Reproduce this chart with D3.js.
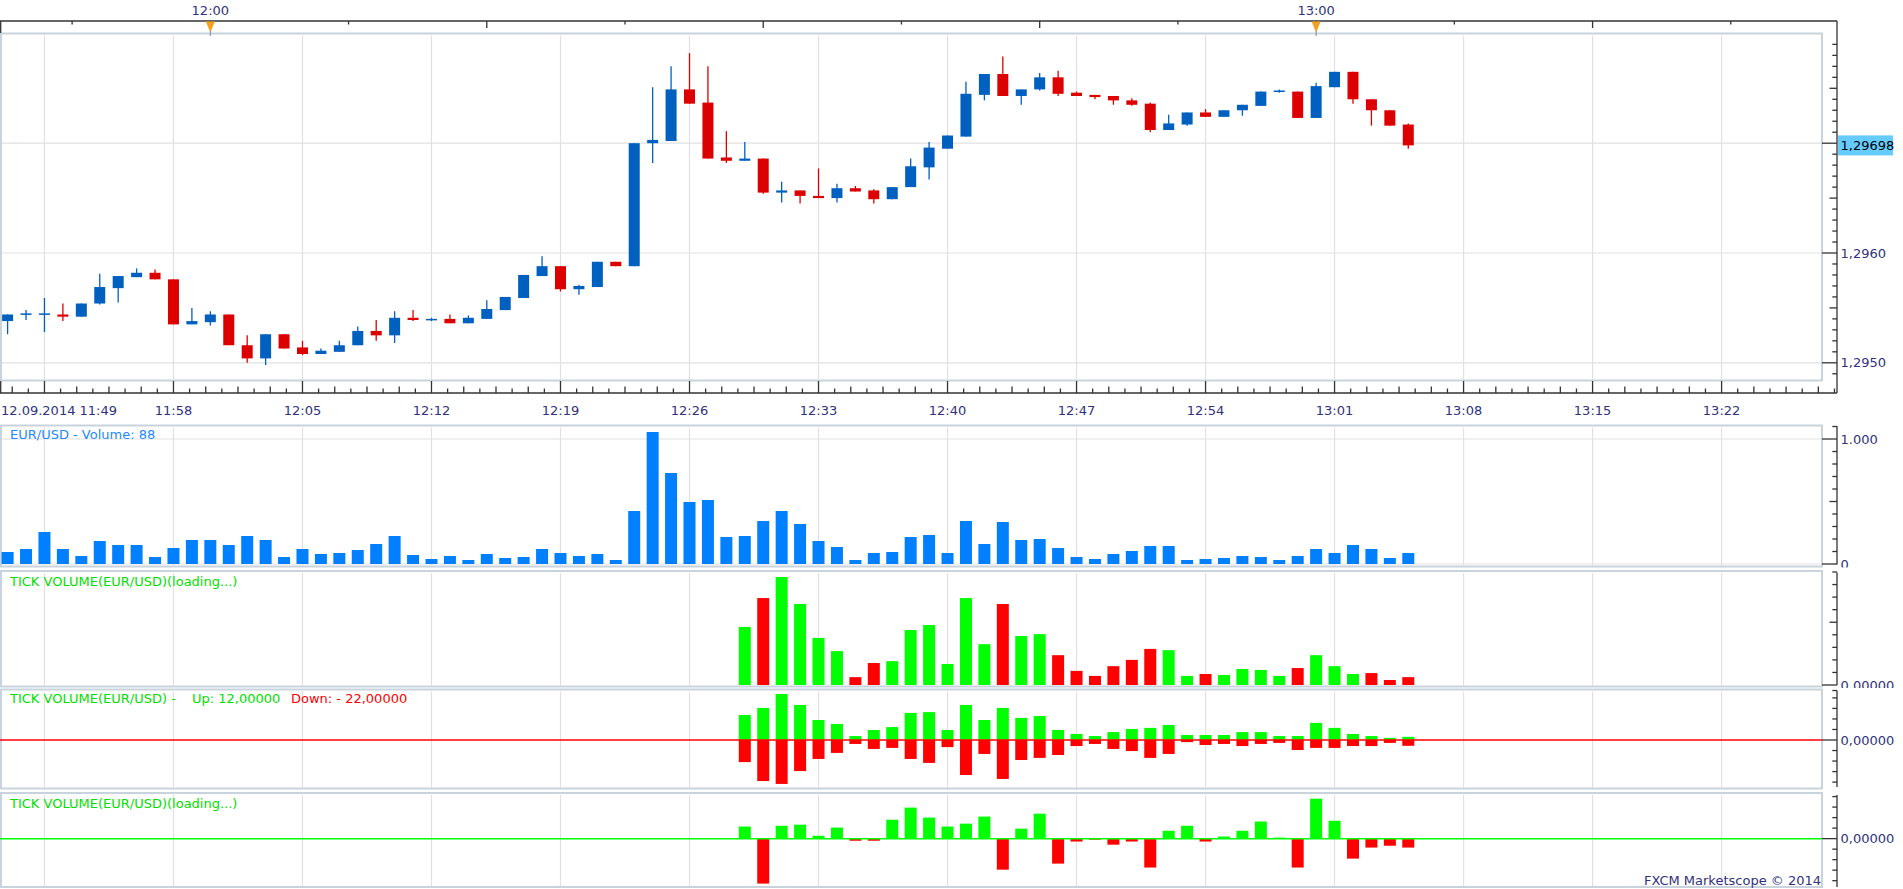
<!DOCTYPE html>
<html>
<head>
<meta charset="utf-8">
<script src="https://cdn.jsdelivr.net/npm/d3@7"></script>
<style>
    body { margin: 0; background: #ffffff; }
    svg text { font-family: "DejaVu Sans", Verdana, sans-serif; font-size: 13px; }
</style>
</head>
<body>
<div id="chart"></div>
<script>
// EUR/USD 1 minute candles, 12.09.2014 11:49 - 13:05
const openPrices = [1.29538, 1.29544, 1.29544, 1.29544, 1.29542, 1.29554, 1.29568, 1.29578, 1.29582, 1.29576,
    1.29535, 1.29537, 1.29544, 1.29516, 1.29504, 1.29526, 1.29514, 1.29508, 1.29510, 1.29516,
    1.29529, 1.29525, 1.29541, 1.29539, 1.29540, 1.29536, 1.29540, 1.29548, 1.29559, 1.29579,
    1.29588, 1.29567, 1.29569, 1.29592, 1.29588, 1.29700, 1.29702, 1.29749, 1.29737, 1.29687,
    1.29684, 1.29686, 1.29655, 1.29657, 1.29652, 1.29650, 1.29659, 1.29657, 1.29649, 1.29660,
    1.29678, 1.29695, 1.29706, 1.29744, 1.29763, 1.29743, 1.29749, 1.29760, 1.29746, 1.29744,
    1.29743, 1.29739, 1.29736, 1.29712, 1.29717, 1.29728, 1.29724, 1.29730, 1.29734, 1.29747,
    1.29747, 1.29723, 1.29751, 1.29765, 1.29740, 1.29730, 1.29717]
const highPrices = [1.29544, 1.29548, 1.29559, 1.29554, 1.29554, 1.29581, 1.29579, 1.29586, 1.29585, 1.29576,
    1.29550, 1.29547, 1.29544, 1.29525, 1.29526, 1.29526, 1.29520, 1.29513, 1.29520, 1.29533,
    1.29539, 1.29547, 1.29548, 1.29541, 1.29544, 1.29543, 1.29557, 1.29560, 1.29580, 1.29597,
    1.29588, 1.29571, 1.29592, 1.29592, 1.29700, 1.29751, 1.29770, 1.29782, 1.29770, 1.29711,
    1.29701, 1.29686, 1.29665, 1.29657, 1.29677, 1.29663, 1.29661, 1.29658, 1.29660, 1.29686,
    1.29701, 1.29707, 1.29756, 1.29763, 1.29779, 1.29749, 1.29764, 1.29766, 1.29747, 1.29744,
    1.29743, 1.29741, 1.29737, 1.29726, 1.29728, 1.29731, 1.29730, 1.29735, 1.29747, 1.29749,
    1.29747, 1.29755, 1.29765, 1.29765, 1.29740, 1.29730, 1.29718]
const lowPrices = [1.29526, 1.29539, 1.29528, 1.29538, 1.29542, 1.29553, 1.29555, 1.29578, 1.29576, 1.29535,
    1.29535, 1.29534, 1.29516, 1.29500, 1.29498, 1.29513, 1.29507, 1.29508, 1.29510, 1.29516,
    1.29520, 1.29518, 1.29538, 1.29538, 1.29536, 1.29536, 1.29540, 1.29548, 1.29559, 1.29579,
    1.29565, 1.29562, 1.29569, 1.29588, 1.29588, 1.29682, 1.29702, 1.29736, 1.29686, 1.29682,
    1.29684, 1.29654, 1.29646, 1.29645, 1.29650, 1.29646, 1.29656, 1.29645, 1.29649, 1.29660,
    1.29667, 1.29695, 1.29706, 1.29739, 1.29743, 1.29735, 1.29748, 1.29743, 1.29743, 1.29740,
    1.29735, 1.29734, 1.29710, 1.29712, 1.29716, 1.29724, 1.29724, 1.29725, 1.29734, 1.29746,
    1.29723, 1.29723, 1.29751, 1.29736, 1.29716, 1.29716, 1.29695]
const closePrices = [1.29544, 1.29545, 1.29545, 1.29542, 1.29554, 1.29569, 1.29579, 1.29582, 1.29576, 1.29535,
    1.29538, 1.29544, 1.29516, 1.29504, 1.29526, 1.29513, 1.29508, 1.29511, 1.29516, 1.29529,
    1.29525, 1.29541, 1.29539, 1.29540, 1.29536, 1.29541, 1.29549, 1.29560, 1.29580, 1.29588,
    1.29567, 1.29570, 1.29592, 1.29588, 1.29700, 1.29703, 1.29749, 1.29736, 1.29686, 1.29684,
    1.29686, 1.29655, 1.29657, 1.29652, 1.29650, 1.29659, 1.29656, 1.29649, 1.29660, 1.29679,
    1.29696, 1.29707, 1.29745, 1.29763, 1.29743, 1.29749, 1.29760, 1.29745, 1.29743, 1.29742,
    1.29739, 1.29735, 1.29712, 1.29718, 1.29728, 1.29724, 1.29730, 1.29735, 1.29747, 1.29748,
    1.29723, 1.29752, 1.29765, 1.29740, 1.29730, 1.29716, 1.29698]
const volumes = [96, 120, 256, 120, 64, 184, 152, 152, 56, 128,
    192, 192, 152, 224, 192, 56, 120, 80, 88, 112,
    160, 224, 72, 40, 64, 32, 80, 48, 56, 120,
    88, 64, 80, 32, 424, 1056, 728, 496, 512, 216,
    224, 344, 424, 320, 184, 136, 32, 88, 96, 216,
    232, 88, 344, 160, 336, 192, 200, 128, 56, 40,
    80, 104, 144, 144, 32, 40, 48, 64, 56, 32,
    64, 120, 88, 152, 120, 48, 88]

// tick volume indicators, loaded from 12:29 on
const tickTotal = [185, 277, 344, 258, 150, 108, 25, 70, 76, 175, 191, 67, 277, 130, 258, 156, 162, 95, 45, 29,
    60, 80, 115, 111, 29, 35, 32, 51, 48, 29, 54, 95, 60, 35, 38, 16, 25]
const tickTotalDir = ["up", "dn", "up", "up", "up", "up", "dn", "dn", "up", "up", "up", "up", "up", "up", "dn", "up", "up", "dn", "dn", "dn",
    "dn", "dn", "dn", "up", "up", "dn", "up", "up", "up", "up", "dn", "up", "up", "up", "dn", "dn", "dn"]
const tickUp = [95, 122, 175, 133, 76, 61, 15, 38, 49, 103, 106, 38, 133, 76, 122, 84, 91, 38, 23, 15,
    30, 42, 46, 57, 19, 19, 19, 30, 30, 15, 15, 65, 46, 23, 15, 8, 12]
const tickDown = [84, 156, 167, 118, 72, 49, 15, 34, 30, 72, 87, 27, 133, 53, 148, 76, 68, 57, 23, 15,
    34, 42, 68, 53, 8, 19, 15, 23, 15, 11, 38, 30, 30, 23, 23, 11, 22]
const tickNet = [46, -171, 49, 53, 11, 42, -8, -8, 72, 118, 80, 46, 57, 84, -118, 38, 95, -95, -11, -4,
    -23, -11, -110, 30, 49, -11, 8, 30, 65, 4, -110, 152, 68, -76, -34, -27, -34]

const priceLabels = [1.2950, 1.2960, 1.2970]
const topLabels = ["12.09.2014 12:00", "12.09.2014 13:00"]

const width = 1903
const height = 889
const plotRight = 1822
const axisX = 1837

const blue = "#0060c0", red = "#dd0000"
const green = "#00ff00", tickRed = "#ff0000"
const gridColor = "#e1e1e1", frameColor = "#c9d3de"
const labelColor = "#32327c"

const locale = d3.formatLocale({ decimal: ",", thousands: ".", grouping: [3], currency: ["", ""] })
const fmt4 = locale.format(".4f"), fmt5 = locale.format(".5f"), fmtInt = locale.format(",d")

const parseTime = d3.timeParse("%d.%m.%Y %H:%M")
const firstBar = parseTime("12.09.2014 11:49")
const barTimes = d3.timeMinute.range(firstBar, d3.timeMinute.offset(firstBar, closePrices.length))
const tickTimes = barTimes.slice(barTimes.length - tickTotal.length)

const minutePx = 18.43
let x = d3.scaleTime()
    .domain([firstBar, parseTime("12.09.2014 13:22")])
    .range([7.6, 7.6 + 93 * minutePx])

const gridTimes = d3.timeMinute.range(parseTime("12.09.2014 11:51"), parseTime("12.09.2014 13:23"), 7)

let yPrice = d3.scaleLinear().domain([1.2950, 1.2970]).range([362.8, 143.2])
let yVol = d3.scaleLinear().domain([0, 1100]).range([564, 426.5])
let yTotal = d3.scaleLinear().domain([0, 360]).range([685, 572])
let yUpDown = d3.scaleLinear().domain([-190, 190]).range([790, 690])
let yNet = d3.scaleLinear().domain([-184, 166]).range([887, 795])

const lastClose = closePrices[closePrices.length - 1]

// panel frames: top / bottom
const panels = {
    main: [33.5, 380.5],
    vol: [425.5, 566.5],
    total: [571, 686.5],
    updown: [689.5, 788.5],
    net: [793, 887]
}

var svg = d3.select("#chart")
    .append("svg")
    .attr("width", width)
    .attr("height", height)
    .style("display", "block")

svg.append("rect").attr("width", width).attr("height", height).attr("fill", "#ffffff")

// vertical grid lines in every panel
Object.values(panels).forEach(p => {
    svg.append("g")
        .selectAll("line")
        .data(gridTimes)
        .enter()
        .append("line")
        .attr("x1", d => x(d)).attr("x2", d => x(d))
        .attr("y1", p[0] + 2).attr("y2", p[1] - 1)
        .attr("stroke", gridColor)
        .attr("stroke-width", 1.2)
})

// horizontal grid lines
svg.append("g")
    .selectAll("line")
    .data(priceLabels)
    .enter()
    .append("line")
    .attr("x1", 0).attr("x2", plotRight)
    .attr("y1", d => yPrice(d)).attr("y2", d => yPrice(d))
    .attr("stroke", gridColor)
    .attr("stroke-width", 1.2)

svg.append("g")
    .selectAll("line")
    .data([0, 1000])
    .enter()
    .append("line")
    .attr("x1", 0).attr("x2", plotRight)
    .attr("y1", d => yVol(d)).attr("y2", d => yVol(d))
    .attr("stroke", gridColor)
    .attr("stroke-width", 1.2)

// panel frames
Object.values(panels).forEach(p => {
    svg.append("rect")
        .attr("x", 1).attr("y", p[0])
        .attr("width", plotRight - 1).attr("height", p[1] - p[0])
        .attr("fill", "none")
        .attr("stroke", frameColor)
        .attr("stroke-width", 2)
})

// candles
const candles = barTimes.map((t, i) => ({ t: t, o: openPrices[i], h: highPrices[i], l: lowPrices[i], c: closePrices[i] }))
const candleColor = d => d.c >= d.o ? blue : red

svg.append("g")
    .selectAll("line")
    .data(candles)
    .enter()
    .append("line")
    .attr("x1", d => x(d.t)).attr("x2", d => x(d.t))
    .attr("y1", d => yPrice(d.h)).attr("y2", d => yPrice(d.l))
    .attr("stroke", candleColor)
    .attr("stroke-width", 1.3)

svg.append("g")
    .selectAll("rect")
    .data(candles)
    .enter()
    .append("rect")
    .attr("x", d => x(d.t) - 5.5)
    .attr("width", 11)
    .attr("y", d => yPrice(Math.max(d.o, d.c)))
    .attr("height", d => Math.max(1.5, Math.abs(yPrice(d.o) - yPrice(d.c))))
    .attr("fill", candleColor)

// volume bars
svg.append("g")
    .selectAll("rect")
    .data(volumes)
    .enter()
    .append("rect")
    .attr("x", (d, i) => x(barTimes[i]) - 6)
    .attr("width", 12)
    .attr("y", d => yVol(d))
    .attr("height", d => yVol(0) - yVol(d))
    .attr("fill", "#0080ff")

// tick volume total
svg.append("g")
    .selectAll("rect")
    .data(tickTotal)
    .enter()
    .append("rect")
    .attr("x", (d, i) => x(tickTimes[i]) - 6)
    .attr("width", 12)
    .attr("y", d => yTotal(d))
    .attr("height", d => yTotal(0) - yTotal(d))
    .attr("fill", (d, i) => tickTotalDir[i] == "up" ? green : tickRed)

// tick volume up / down
svg.append("g")
    .selectAll("rect")
    .data(tickUp)
    .enter()
    .append("rect")
    .attr("x", (d, i) => x(tickTimes[i]) - 6)
    .attr("width", 12)
    .attr("y", d => yUpDown(d))
    .attr("height", d => yUpDown(0) - yUpDown(d))
    .attr("fill", green)

svg.append("g")
    .selectAll("rect")
    .data(tickDown)
    .enter()
    .append("rect")
    .attr("x", (d, i) => x(tickTimes[i]) - 6)
    .attr("width", 12)
    .attr("y", yUpDown(0))
    .attr("height", d => yUpDown(-d) - yUpDown(0))
    .attr("fill", tickRed)

svg.append("line")
    .attr("x1", 0).attr("x2", plotRight)
    .attr("y1", yUpDown(0)).attr("y2", yUpDown(0))
    .attr("stroke", tickRed).attr("stroke-width", 1.5)

// tick volume net
svg.append("g")
    .selectAll("rect")
    .data(tickNet)
    .enter()
    .append("rect")
    .attr("x", (d, i) => x(tickTimes[i]) - 6)
    .attr("width", 12)
    .attr("y", d => yNet(Math.max(0, d)))
    .attr("height", d => Math.abs(yNet(d) - yNet(0)))
    .attr("fill", d => d >= 0 ? green : tickRed)

svg.append("line")
    .attr("x1", 0).attr("x2", plotRight)
    .attr("y1", yNet(0)).attr("y2", yNet(0))
    .attr("stroke", green).attr("stroke-width", 1.5)

// ---- top time axis ----
const axis = svg.append("g").attr("stroke", "#333333").attr("stroke-width", 1.3)

axis.append("line").attr("x1", 0).attr("x2", axisX).attr("y1", 21).attr("y2", 21)
axis.append("line").attr("x1", 0.7).attr("x2", 0.7).attr("y1", 21).attr("y2", 33)

const topTicks = d3.timeSecond.range(parseTime("12.09.2014 11:52"), x.invert(axisX), 450)
    .map(t => d3.timeSecond.offset(t, 30))
axis.selectAll(".toptick")
    .data(topTicks.filter(t => x(t) < axisX))
    .enter()
    .append("line")
    .attr("x1", d => x(d)).attr("x2", d => x(d))
    .attr("y1", 21)
    .attr("y2", d => d.getMinutes() % 15 == 0 && d.getSeconds() == 0 ? 28 : 24.5)

const topMarks = topLabels.map(parseTime)
svg.append("g")
    .selectAll("text")
    .data(topMarks)
    .enter()
    .append("text")
    .attr("x", d => x(d))
    .attr("y", 10.7)
    .attr("text-anchor", "middle")
    .attr("dominant-baseline", "central")
    .attr("fill", labelColor)
    .text(d3.timeFormat("%H:%M"))

svg.append("g")
    .selectAll("path")
    .data(topMarks)
    .enter()
    .append("path")
    .attr("d", d => `M${x(d) - 4.5},21.5 L${x(d) + 4.5},21.5 L${x(d)},32.5 Z`)
    .attr("fill", "#f5a11c")

svg.append("g")
    .selectAll("line")
    .data(topMarks)
    .enter()
    .append("line")
    .attr("x1", d => x(d)).attr("x2", d => x(d))
    .attr("y1", 31).attr("y2", 36)
    .attr("stroke", "#7d8aa0").attr("stroke-width", 1)

// ---- bottom time axis ----
axis.append("line").attr("x1", 0).attr("x2", axisX).attr("y1", 393).attr("y2", 393)
axis.append("line").attr("x1", 0.7).attr("x2", 0.7).attr("y1", 381).attr("y2", 393)

const minorTimes = d3.timeMillisecond.range(d3.timeSecond.offset(gridTimes[0], -105), x.invert(axisX), 52500)
axis.selectAll(".bottick")
    .data(minorTimes)
    .enter()
    .append("line")
    .attr("x1", d => x(d)).attr("x2", d => x(d))
    .attr("y2", 393)
    .attr("y1", d => {
        let step = Math.round((d - gridTimes[0]) / 52500)
        if (step % 8 == 0) return 381
        return step % 2 == 0 ? 386.5 : 388.5
    })

svg.append("g")
    .selectAll("text")
    .data(gridTimes.slice(1))
    .enter()
    .append("text")
    .attr("x", d => x(d))
    .attr("y", 410)
    .attr("text-anchor", "middle")
    .attr("dominant-baseline", "central")
    .attr("fill", labelColor)
    .text(d3.timeFormat("%H:%M"))

svg.append("text")
    .attr("x", 1)
    .attr("y", 410)
    .attr("dominant-baseline", "central")
    .attr("fill", labelColor)
    .text(d3.timeFormat("%d.%m.%Y %H:%M")(firstBar))

// ---- right axes ----
// value axis helper: ticks with 3 lengths, clipped labels
function rightAxis(id, scale, top, bottom, ticks, isMajor, isMid, labels, fmt) {
    axis.append("line").attr("x1", axisX).attr("x2", axisX).attr("y1", top).attr("y2", bottom)

    axis.append("g")
        .selectAll("line")
        .data(ticks)
        .enter()
        .append("line")
        .attr("x1", d => isMajor(d) ? plotRight : (isMid(d) ? axisX - 7.5 : axisX - 4.7))
        .attr("x2", axisX)
        .attr("y1", d => scale(d)).attr("y2", d => scale(d))

    svg.append("clipPath").attr("id", id)
        .append("rect").attr("x", axisX).attr("y", top).attr("width", width - axisX).attr("height", bottom - top + 3)

    svg.append("g")
        .attr("clip-path", `url(#${id})`)
        .selectAll("text")
        .data(labels)
        .enter()
        .append("text")
        .attr("x", axisX + 3.5)
        .attr("y", d => scale(d))
        .attr("dominant-baseline", "central")
        .attr("fill", labelColor)
        .text(fmt)
}

// the 1,2970 label sits under the last price box, so it is left out
rightAxis("clipPrice", yPrice, 21, 393,
    d3.range(12949, 12980).map(k => k / 10000),
    d => Math.round(d * 10000) % 10 == 0,
    d => Math.round(d * 10000) % 5 == 0,
    priceLabels.filter(p => Math.abs(yPrice(p) - yPrice(lastClose)) > 14), fmt4)

rightAxis("clipVol", yVol, 426, 564.5,
    d3.range(0, 1101, 100),
    d => d % 1000 == 0,
    d => d % 500 == 0,
    [0, 1000], fmtInt)

rightAxis("clipTotal", yTotal, 572.5, 685,
    d3.range(0, 361, 40),
    d => d == 0,
    d => d % 200 == 0,
    [0], fmt5)

rightAxis("clipUpDown", yUpDown, 690.5, 787,
    d3.range(-160, 161, 40).concat([188]),
    d => d == 0,
    d => false,
    [0], fmt5)

rightAxis("clipNet", yNet, 795, 887,
    d3.range(-160, 161, 40),
    d => d == 0,
    d => false,
    [0], fmt5)

// last price box
svg.append("rect")
    .attr("x", axisX + 1)
    .attr("y", yPrice(lastClose) - 10)
    .attr("width", 55)
    .attr("height", 20)
    .attr("fill", "#66ccff")
svg.append("text")
    .attr("x", axisX + 3.5)
    .attr("y", yPrice(lastClose) + 0.5)
    .attr("dominant-baseline", "central")
    .attr("fill", "#000000")
    .text(fmt5(lastClose))

// ---- panel titles ----
svg.append("text")
    .attr("x", 10).attr("y", 434)
    .attr("dominant-baseline", "central")
    .attr("fill", "#1e88ff")
    .text("EUR/USD - Volume: " + volumes[volumes.length - 1])

svg.append("text")
    .attr("x", 10).attr("y", 581)
    .attr("dominant-baseline", "central")
    .attr("fill", "#00e000")
    .text("TICK VOLUME(EUR/USD)(loading...)")

let updownTitle = svg.append("text")
    .attr("y", 698)
    .attr("dominant-baseline", "central")
updownTitle.append("tspan").attr("x", 10).attr("fill", "#00e000").text("TICK VOLUME(EUR/USD) -")
updownTitle.append("tspan").attr("x", 192).attr("fill", "#00e000").text("Up: " + fmt5(tickUp[tickUp.length - 1]))
updownTitle.append("tspan").attr("x", 291).attr("fill", "#ff0000").text("Down: - " + fmt5(tickDown[tickDown.length - 1]))

svg.append("text")
    .attr("x", 10).attr("y", 803)
    .attr("dominant-baseline", "central")
    .attr("fill", "#00e000")
    .text("TICK VOLUME(EUR/USD)(loading...)")

svg.append("text")
    .attr("x", plotRight - 1).attr("y", 880)
    .attr("text-anchor", "end")
    .attr("dominant-baseline", "central")
    .attr("fill", labelColor)
    .text("FXCM Marketscope © 2014")
</script>
</body>
</html>
